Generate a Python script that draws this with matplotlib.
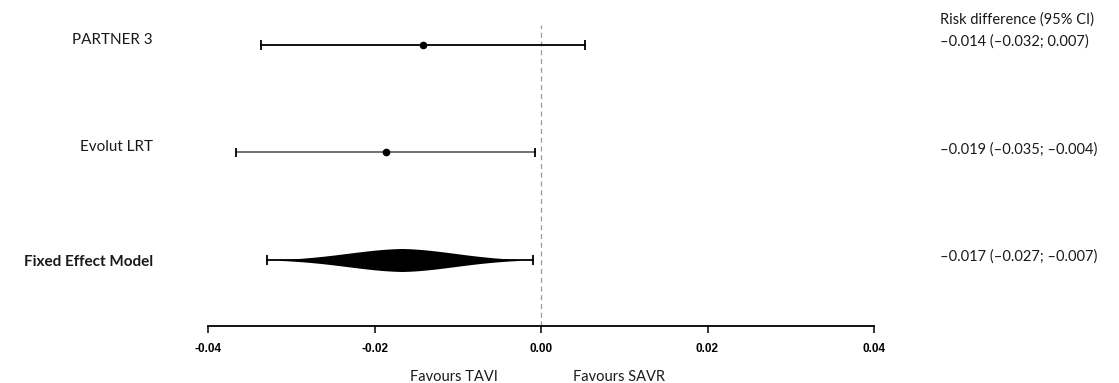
import numpy as np
import matplotlib
matplotlib.use("Agg")
import matplotlib.pyplot as plt

# study rows, top to bottom
studies = ["PARTNER 3", "Evolut LRT", "Fixed Effect Model"]
estimates = [-0.0142, -0.0186, -0.0167]
ci_low = [-0.0336, -0.0366, -0.0329]
ci_high = [0.0053, -0.0007, -0.0010]
ci_text = ["\u20130.014 (\u20130.032; 0.007)",
           "\u20130.019 (\u20130.035; \u20130.004)",
           "\u20130.017 (\u20130.027; \u20130.007)"]
xticks = [-0.04, -0.02, 0.00, 0.02, 0.04]
xtick_labels = ["-0.04", "-0.02", "0.00", "0.02", "0.04"]

rows = [3, 2, 1]
label_font = "Lato"

fig = plt.figure(figsize=(11.19, 3.83), dpi=100)
ax = fig.add_axes([208 / 1119, 57 / 383, 666 / 1119, 301 / 383])
ax.set_xlim(-0.04, 0.04)
ax.set_ylim(0.386, 3.186)

# no-effect line
ax.axvline(0, color="#999999", linestyle=(0, (4, 3)), linewidth=0.9, zorder=1)

cap = 0.045
for i, (y, est, lo, hi) in enumerate(zip(rows, estimates, ci_low, ci_high)):
    line_col = "#666666" if i == 1 else "black"
    ax.plot([lo, hi], [y, y], color=line_col, linewidth=1.3, zorder=2)
    ax.vlines([lo, hi], y - cap, y + cap, color="black", linewidth=1.3, zorder=3)
    if i < 2:
        ax.plot(est, y, "o", color="black", markersize=4.5, zorder=4)
    else:
        # pooled estimate as a tapered lens shape
        left, right = lo + 0.0015, hi - 0.0015
        xs = np.linspace(left, right, 300)
        t = np.where(xs < est, (est - xs) / (est - left), (xs - est) / (right - est))
        half = 0.107 * np.exp(-0.5 * (2.1 * t) ** 2) * (1 - 0.15 * t) - 0.006 * t
        ax.fill_between(xs, y - half, y + half, color="black", linewidth=0, zorder=3)

for y, name in zip(rows, studies):
    bold = name == "Fixed Effect Model"
    ax.text(-0.0466, y + (0.05 if not bold else -0.02), name, ha="right", va="center",
            fontsize=11, fontweight="bold" if bold else "normal",
            family=label_font, color="#1a1a1a", clip_on=False)

ax.text(0.0479, 3.24, "Risk difference (95% CI)", ha="left", va="center",
        fontsize=10.5, family=label_font, color="#1a1a1a", clip_on=False)
for y, t in zip(rows, ci_text):
    ax.text(0.0479, y + 0.03, t, ha="left", va="center",
            fontsize=10.5, family=label_font, color="#1a1a1a", clip_on=False)

ax.text(-0.0052, -0.09, "Favours TAVI", ha="right", va="center",
        fontsize=10.5, family=label_font, color="#1a1a1a", clip_on=False)
ax.text(0.0039, -0.09, "Favours SAVR", ha="left", va="center",
        fontsize=10.5, family=label_font, color="#1a1a1a", clip_on=False)

for s in ["top", "right", "left"]:
    ax.spines[s].set_visible(False)
ax.spines["bottom"].set_linewidth(1.3)
ax.set_yticks([])
ax.set_xticks(xticks)
ax.set_xticklabels(xtick_labels, fontsize=8.5, fontweight="bold", family="Liberation Sans")
ax.tick_params(axis="x", direction="out", length=5, width=1.1, pad=7)

fig.savefig("out.png", dpi=100, facecolor="white")
